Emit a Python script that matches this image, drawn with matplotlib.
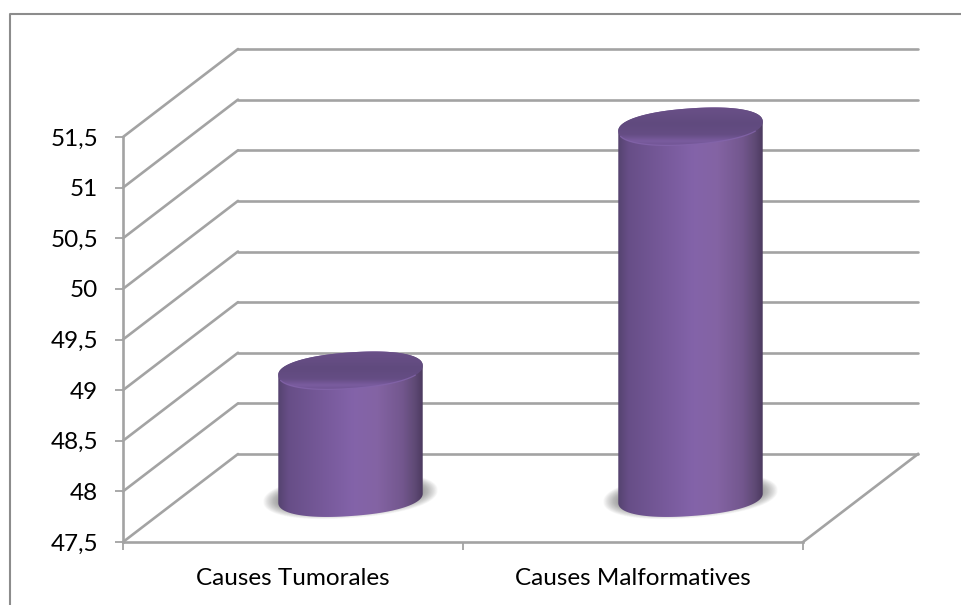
import numpy as np
import matplotlib
matplotlib.use("Agg")
import matplotlib.pyplot as plt
from matplotlib.colors import LinearSegmentedColormap
from matplotlib.lines import Line2D
from matplotlib.patches import Polygon

plt.rcParams['font.family'] = ['Lato', 'DejaVu Sans']

categories = ["Causes Tumorales", "Causes Malformatives"]
values = [48.76, 51.17]
y_ticks = [47.5, 48, 48.5, 49, 49.5, 50, 50.5, 51, 51.5]
y_labels = ["47,5", "48", "48,5", "49", "49,5", "50", "50,5", "51", "51,5"]

GREY = "#a3a3a3"
X_PX = 340.0     # pixels per category
Y_PX = 101.25    # pixels per value unit
DEPTH_X = 115 / X_PX
DEPTH_Y = 88 / Y_PX

fig = plt.figure(figsize=(9.61, 6.05), dpi=100)
ax = fig.add_axes([123 / 961, (605 - 542) / 605, 680 / 961, 405 / 605])

# outer frame, only top and left show
fig.add_artist(Line2D([9.5 / 961, 9.5 / 961, 1], [0, 1 - 14 / 605, 1 - 14 / 605],
                      color="#8c8c8c", lw=1.5))

body_cmap = LinearSegmentedColormap.from_list("body", [
    (0.0, "#55436f"), (0.07, "#674e87"), (0.35, "#795b9d"), (0.52, "#8363a9"),
    (0.68, "#8464a4"), (0.86, "#73578e"), (0.95, "#5e4974"), (1.0, "#4c3a5f")])
top_cmap = LinearSegmentedColormap.from_list("top", [
    (0.0, "#6b5189"), (0.45, "#604a7e"), (0.72, "#654d84"), (0.88, "#7a5c9f"), (1.0, "#6f5492")])

# tilted, slightly squared ellipse; offsets in pixels, result in data units
A, B, TILT, ROUND = 72.4, 18.0, np.radians(4.1), 0.9


def ellipse(cx, cy, a=A, b=B, t=None):
    if t is None:
        t = np.linspace(0, 2 * np.pi, 300)
    c = np.sign(np.cos(t)) * np.abs(np.cos(t)) ** ROUND
    s = np.sign(np.sin(t)) * np.abs(np.sin(t)) ** ROUND
    ex = a * c * np.cos(TILT) - b * s * np.sin(TILT)
    ey = a * c * np.sin(TILT) + b * s * np.cos(TILT)
    return np.column_stack([cx + ex / X_PX, cy + ey / Y_PX])


def gradient(arr, cmap, extent, clip, z):
    im = ax.imshow(arr, cmap=cmap, extent=extent, aspect="auto", origin="lower",
                   zorder=z, vmin=0, vmax=1, interpolation="bilinear")
    # the tall cylinder rises past the axes box
    im.set_clip_box(fig.bbox)
    im.set_clip_path(clip)
    return im


def cylinder(pos, value):
    cx = pos + DEPTH_X / 2
    y0 = y_ticks[0] + DEPTH_Y / 2
    y1 = y0 + value - y_ticks[0]

    # soft shadow on the floor
    for k in np.linspace(1, 0, 24):
        shadow = Polygon(ellipse(cx, y0 + 2 / Y_PX, 72.4 + 15 * k, 14 + 8 * k),
                         fc="#606060", ec="none", alpha=0.032, zorder=3)
        ax.add_patch(shadow)

    # side wall: right edge to left edge along the front of both ends
    front = np.linspace(0, -np.pi, 100)
    back = np.linspace(-np.pi, -2 * np.pi, 100)
    lower = ellipse(cx, y0, t=front)
    upper = ellipse(cx, y1, t=back)
    body = Polygon(np.vstack([lower, upper]), fc="none", ec="none", zorder=4, clip_on=False)
    ax.add_patch(body)
    xe = A / X_PX
    gradient(np.linspace(0, 1, 256)[None, :], body_cmap,
             [cx - xe, cx + xe, y0 - 30 / Y_PX, y1 + 30 / Y_PX], body, 4)

    # cap
    cap = Polygon(ellipse(cx, y1), fc="none", ec="none", zorder=5, clip_on=False)
    ax.add_patch(cap)
    gradient(np.linspace(1, 0, 128)[:, None], top_cmap,
             [cx - xe, cx + xe, y1 - 20 / Y_PX, y1 + 20 / Y_PX], cap, 5)
    rim = ellipse(cx, y1, t=np.linspace(-2.9, -0.5, 60))
    ax.plot(rim[:, 0], rim[:, 1], color="#8465ab", lw=0.9, alpha=0.8, zorder=6,
            solid_capstyle="round", clip_on=False)


# depth lines and back wall grid
back_x = [DEPTH_X, len(categories) + DEPTH_X]
for v in y_ticks:
    ax.plot([0, DEPTH_X], [v, v + DEPTH_Y], color=GREY, lw=1.9, zorder=2, clip_on=False,
            solid_capstyle="round")
    ax.plot(back_x, [v + DEPTH_Y, v + DEPTH_Y], color=GREY, lw=1.9, zorder=2, clip_on=False,
            solid_capstyle="round")
ax.plot([len(categories), back_x[1]], [y_ticks[0], y_ticks[0] + DEPTH_Y],
        color=GREY, lw=1.9, zorder=2, clip_on=False)

for i, v in enumerate(values):
    cylinder(i + 0.5, v)

ax.set_xlim(0, len(categories))
ax.set_ylim(y_ticks[0], y_ticks[-1])
ax.patch.set_alpha(0)

for side in ["top", "right"]:
    ax.spines[side].set_visible(False)
for side in ["left", "bottom"]:
    ax.spines[side].set_color(GREY)
    ax.spines[side].set_linewidth(1.9)

ax.set_yticks(y_ticks)
ax.set_yticklabels(y_labels)
ax.set_xticks(range(len(categories) + 1))
ax.set_xticklabels([])
ax.set_xticks([i + 0.5 for i in range(len(categories))], minor=True)
ax.set_xticklabels(categories, minor=True)
ax.tick_params(axis="y", length=6, width=1.3, color=GREY, labelsize=17.5, pad=12, labelcolor="black")
ax.tick_params(axis="x", which="major", length=6, width=1.3, color=GREY)
ax.tick_params(axis="x", which="minor", length=0, labelsize=17.5, pad=19, labelcolor="black")

fig.savefig("out.png", dpi=100)
